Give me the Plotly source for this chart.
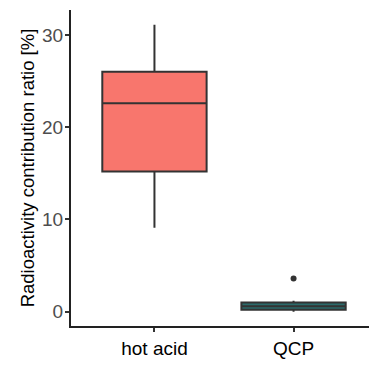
import plotly.graph_objects as go

categories = ["hot acid", "QCP"]
q1 = [15.2, 0.2]
median = [22.6, 0.6]
q3 = [26.0, 1.0]
lower = [9.1, 0.0]
upper = [31.1, 1.2]
fills = ["#F8766D", "#2B6A6A"]
outlier_x = ["QCP"]
outlier_y = [3.6]

fig = go.Figure()
for i, c in enumerate(categories):
    fig.add_trace(go.Box(
        x=[c], q1=[q1[i]], median=[median[i]], q3=[q3[i]],
        lowerfence=[lower[i]], upperfence=[upper[i]],
        fillcolor=fills[i], line=dict(color="#333333", width=2),
        whiskerwidth=0, width=0.75, boxpoints=False, showlegend=False,
    ))
fig.add_trace(go.Scatter(x=outlier_x, y=outlier_y, mode="markers",
                         marker=dict(color="#333333", size=6), showlegend=False))

fig.update_layout(
    width=369, height=364,
    margin=dict(l=63, r=0, t=2, b=46),
    plot_bgcolor="white", paper_bgcolor="white",
    font=dict(family="Liberation Sans, Arial", color="black"),
    xaxis=dict(range=[-0.6, 1.6], showline=True, linecolor="#222222", linewidth=2,
               ticks="outside", ticklen=4, tickcolor="#333333", tickwidth=1.5,
               tickfont=dict(size=19, color="black"), showgrid=False, zeroline=False,
               automargin=False),
    yaxis=dict(range=[-1.55, 32.7], showline=True, linecolor="#222222", linewidth=2,
               ticks="outside", ticklen=4, tickcolor="#333333", tickwidth=1.5,
               tickvals=[0, 10, 20, 30], automargin=False, ticklabelstandoff=-2,
               tickfont=dict(size=19, color="#4D4D4D"), showgrid=False, zeroline=False,
               title=dict(text="Radioactivity contribution ratio [%]",
                          font=dict(size=18.5, color="black"), standoff=3)),
)
fig.write_html("out.html")
